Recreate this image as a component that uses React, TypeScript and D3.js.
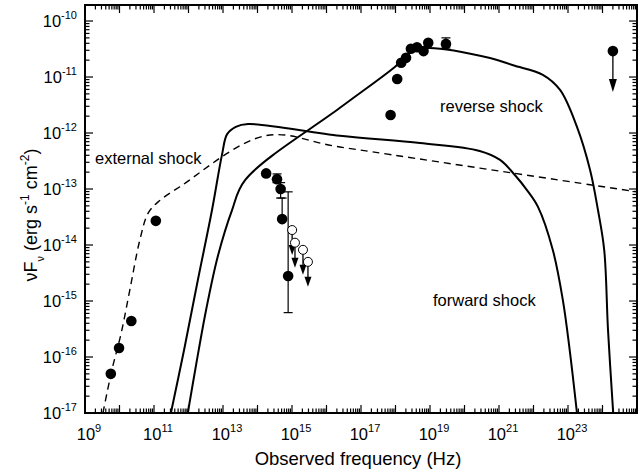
import * as d3 from "d3";

/* ---------------- data ---------------- */

// filled radio points
const radioNu = [5.6e9, 9.7e9, 2.2e10, 1.13e11];
const radioF = [5.0e-17, 1.45e-16, 4.4e-16, 2.7e-14];

// optical points with error bars (null = no bar)
const optNu = [1.78e14, 3.68e14, 4.68e14, 5.18e14, 7.73e14];
const optF = [1.9e-13, 1.5e-13, 1.0e-13, 2.9e-14, 2.8e-15];
const optLo = [null, 1.3e-13, 6.9e-14, 2.9e-14, 6.2e-16];
const optHi = [null, 1.86e-13, 1.3e-13, 6.9e-14, 8.9e-14];

// optical upper limits (open circles)
const ulNu = [1.01e15, 1.22e15, 2.08e15, 2.9e15];
const ulF = [1.85e-14, 1.1e-14, 8.2e-15, 5.0e-15];

// X-ray points
const xrayNu = [7.2e17, 1.12e18, 1.46e18, 2.02e18, 2.8e18, 4.2e18, 6.5e18, 8.9e18, 2.9e19];
const xrayF = [2.1e-12, 9.2e-12, 1.8e-11, 2.2e-11, 3.2e-11, 3.4e-11, 2.9e-11, 4.1e-11, 3.9e-11];
const xrayLo = [null, null, null, null, null, null, null, null, 3.3e-11];
const xrayHi = [null, null, null, null, null, null, null, null, 5.0e-11];

// gamma-ray upper limit
const gammaNu = [2.0e24];
const gammaF = [2.9e-11];

// model curves (log10 nu, log10 nuFnu)
const fwdLogNu = [11.49, 11.87, 12.27, 12.68, 12.97, 13.12, 13.37, 13.73, 16.39, 18.71, 20.44, 21.03, 21.46, 21.81, 22.13, 22.56, 22.85, 23.05, 23.26];
const fwdLogF = [-17.0, -15.88, -14.63, -13.38, -12.39, -12.02, -11.89, -11.84, -12.05, -12.18, -12.32, -12.48, -12.75, -13.02, -13.32, -14.09, -14.98, -15.88, -17.0];

const revLogNu = [11.98, 12.22, 12.51, 12.85, 13.26, 13.64, 16.39, 17.98, 18.48, 18.95, 20.74, 21.41, 22.27, 22.77, 23.26, 23.64, 23.87, 24.05, 24.16, 24.31];
const revLogF = [-17.0, -16.14, -15.16, -14.2, -13.38, -12.84, -11.55, -10.82, -10.54, -10.48, -10.66, -10.79, -10.96, -11.23, -11.89, -12.66, -13.38, -14.09, -15.52, -17.0];

const extLogNu = [9.52, 9.78, 10.05, 10.3, 10.59, 10.83, 11.12, 11.75, 14.22, 16.39, 25.0];
const extLogF = [-17.0, -16.23, -15.57, -14.8, -13.91, -13.43, -13.23, -12.96, -12.05, -12.25, -13.05];

// axis ticks
const xMajorExp = d3.range(9, 26);
const xLabelExp = [9, 11, 13, 15, 17, 19, 21, 23];
const yMajorExp = d3.range(-17, -9);

/* ---------------- layout ---------------- */

const W = 638;
const H = 474;
const left = 85;
const right = 637;
const top = 5;
const bottom = 413;
const FONT = "'Liberation Sans', Arial, Helvetica, sans-serif";

export default function App() {
  const x = d3.scaleLog().domain([1e9, 1e25]).range([left, right]);
  const y = d3.scaleLog().domain([1e-17, 10 ** -9.714]).range([bottom, top]);

  const curve = (lnu: number[], lf: number[]) =>
    d3
      .line<number>()
      .x((_, i) => x(10 ** lnu[i]))
      .y((_, i) => y(10 ** lf[i]))
      .curve(d3.curveCatmullRom.alpha(0.5))(lnu) ?? "";

  // minor ticks
  const xMinor: number[] = [];
  for (const e of d3.range(9, 25)) for (let m = 2; m <= 9; m++) xMinor.push(m * 10 ** e);
  const yMinor: number[] = [];
  for (const e of d3.range(-17, -9)) for (let m = 2; m <= 9; m++) yMinor.push(m * 10 ** e);
  const yMinorIn = yMinor.filter((v) => y(v) >= top);

  const dot = (nu: number, f: number, k: string) => (
    <circle key={k} cx={x(nu)} cy={y(f)} r={5.3} fill="#000" />
  );

  const errBar = (nu: number, lo: number | null, hi: number | null, k: string) => {
    if (lo == null || hi == null) return null;
    const cx = x(nu);
    return (
      <g key={k} stroke="#000" strokeWidth={1.2}>
        <line x1={cx} x2={cx} y1={y(lo)} y2={y(hi)} />
        <line x1={cx - 4.5} x2={cx + 4.5} y1={y(lo)} y2={y(lo)} />
        <line x1={cx - 4.5} x2={cx + 4.5} y1={y(hi)} y2={y(hi)} />
      </g>
    );
  };

  const arrow = (cx: number, y0: number, y1: number, hw: number, hl: number, k: string) => (
    <g key={k}>
      <line x1={cx} x2={cx} y1={y0} y2={y1 - hl + 1} stroke="#000" strokeWidth={1.3} />
      <path d={`M${cx - hw},${y1 - hl} L${cx + hw},${y1 - hl} L${cx},${y1} Z`} fill="#000" />
    </g>
  );

  return (
    <svg
      width={W}
      height={H}
      style={{ position: "absolute", left: 0, top: 0, background: "#fff" }}
      fontFamily={FONT}
    >
      <defs>
        <clipPath id="plot">
          <rect x={left} y={top} width={right - left} height={bottom - top} />
        </clipPath>
      </defs>

      {/* ticks */}
      <g stroke="#000" strokeWidth={1.2}>
        {xMajorExp.map((e) => (
          <g key={`xM${e}`}>
            <line x1={x(10 ** e)} x2={x(10 ** e)} y1={bottom} y2={bottom - 8} />
            <line x1={x(10 ** e)} x2={x(10 ** e)} y1={top} y2={top + 8} />
          </g>
        ))}
        {xMinor.map((v, i) => (
          <g key={`xm${i}`}>
            <line x1={x(v)} x2={x(v)} y1={bottom} y2={bottom - 4.5} />
            <line x1={x(v)} x2={x(v)} y1={top} y2={top + 4.5} />
          </g>
        ))}
        {yMajorExp.map((e) => (
          <g key={`yM${e}`}>
            <line x1={left} x2={left + 8} y1={y(10 ** e)} y2={y(10 ** e)} />
            <line x1={right} x2={right - 8} y1={y(10 ** e)} y2={y(10 ** e)} />
          </g>
        ))}
        {yMinorIn.map((v, i) => (
          <g key={`ym${i}`}>
            <line x1={left} x2={left + 4.5} y1={y(v)} y2={y(v)} />
            <line x1={right} x2={right - 4.5} y1={y(v)} y2={y(v)} />
          </g>
        ))}
      </g>

      {/* frame */}
      <rect x={left} y={top} width={right - left} height={bottom - top} fill="none" stroke="#000" strokeWidth={2} />

      {/* model curves */}
      <g clipPath="url(#plot)" fill="none" stroke="#000">
        <path d={curve(extLogNu, extLogF)} strokeWidth={1.4} strokeDasharray="7,5" />
        <path d={curve(fwdLogNu, fwdLogF)} strokeWidth={2} />
        <path d={curve(revLogNu, revLogF)} strokeWidth={2} />
      </g>

      {/* data */}
      {radioNu.map((nu, i) => dot(nu, radioF[i], `r${i}`))}
      {optNu.map((nu, i) => errBar(nu, optLo[i], optHi[i], `oe${i}`))}
      {optNu.map((nu, i) => dot(nu, optF[i], `o${i}`))}
      {ulNu.map((nu, i) => arrow(x(nu), y(ulF[i]) + 4.5, y(ulF[i]) + 25, 3.5, 10, `ua${i}`))}
      {ulNu.map((nu, i) => (
        <circle key={`u${i}`} cx={x(nu)} cy={y(ulF[i])} r={4.5} fill="#fff" stroke="#000" strokeWidth={1} />
      ))}
      {xrayNu.map((nu, i) => errBar(nu, xrayLo[i], xrayHi[i], `xe${i}`))}
      {xrayNu.map((nu, i) => dot(nu, xrayF[i], `x${i}`))}
      {gammaNu.map((nu, i) => arrow(x(nu), y(gammaF[i]), y(gammaF[i]) + 41, 4, 13, `ga${i}`))}
      {gammaNu.map((nu, i) => dot(nu, gammaF[i], `g${i}`))}

      {/* annotations */}
      <g fontSize={16.5} fill="#000">
        <text x={95} y={164}>external shock</text>
        <text x={440} y={112}>reverse shock</text>
        <text x={433} y={306}>forward shock</text>
      </g>

      {/* tick labels */}
      <g fill="#000">
        {yMajorExp.map((e) => (
          <text key={`yl${e}`} x={77} y={y(10 ** e) + 6} textAnchor="end" fontSize={16.5}>
            10<tspan dy={-8} fontSize={11}>{e}</tspan>
          </text>
        ))}
        {xLabelExp.map((e) => (
          <text key={`xl${e}`} x={x(10 ** e) + 4} y={440} textAnchor="middle" fontSize={16.5}>
            10<tspan dy={-8} fontSize={11}>{e}</tspan>
          </text>
        ))}
      </g>

      {/* axis titles */}
      <text x={358} y={465} textAnchor="middle" fontSize={18.5}>
        Observed frequency (Hz)
      </text>
      <text transform="translate(37,215) rotate(-90)" textAnchor="middle" fontSize={18}>
        νF
        <tspan dy={7} fontSize={11}>ν</tspan>
        <tspan dy={-7}>{"  (erg s"}</tspan>
        <tspan dy={-8} fontSize={12}>-1</tspan>
        <tspan dy={8}>{" cm"}</tspan>
        <tspan dy={-8} fontSize={12}>-2</tspan>
        <tspan dy={8}>)</tspan>
      </text>
    </svg>
  );
}
